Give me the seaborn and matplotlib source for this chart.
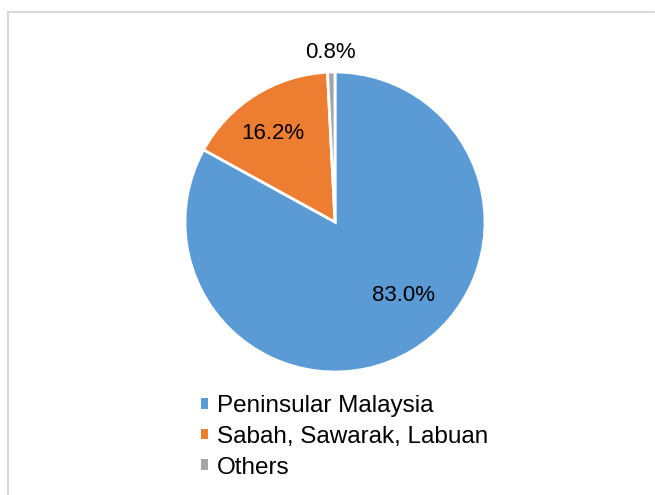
import numpy as np
import matplotlib
matplotlib.use("Agg")
import matplotlib.pyplot as plt
from matplotlib.patches import Patch
from matplotlib.lines import Line2D
import seaborn as sns

# data
regions = ['Peninsular Malaysia', 'Sabah, Sawarak, Labuan', 'Others']
shares = [83.0, 16.2, 0.8]
colors = ['#5B9BD5', '#ED7D31', '#A5A5A5']

# label placement (angle in degrees, radius as fraction of pie radius), like Excel best fit
label_angle = [-47, 125, 91.7]
label_radius = [0.667, 0.72, 1.13]

sns.set_theme(style='white')
plt.rcParams['font.family'] = ['Liberation Sans', 'DejaVu Sans']
plt.rcParams['text.color'] = 'black'

W, H = 655, 495
fig = plt.figure(figsize=(W / 100, H / 100), dpi=100)
fig.patch.set_facecolor('white')

# pie area: center (335, 222), radius 150 px
cx, cy, r = 335, 222, 150
ax = fig.add_axes([(cx - r) / W, (H - cy - r) / H, 2 * r / W, 2 * r / H])

wedges, texts, autotexts = ax.pie(
    shares, colors=colors, startangle=90, counterclock=False,
    autopct='%1.1f%%', pctdistance=0.6,
    wedgeprops=dict(edgecolor='white', linewidth=2.0),
    textprops=dict(fontsize=16, color='black'),
)
for t, a, rr in zip(autotexts, label_angle, label_radius):
    t.set_position((rr * np.cos(np.radians(a)), rr * np.sin(np.radians(a))))
    t.set_ha('center')
    t.set_va('center')
ax.set_xlim(-1, 1)
ax.set_ylim(-1, 1)
ax.set_aspect('equal')
ax.axis('off')

handles = [Patch(facecolor=c, edgecolor='none', label=l) for c, l in zip(colors, regions)]
leg = fig.legend(handles=handles, loc='upper left', bbox_to_anchor=(201 / W, 1 - 395 / H),
                 frameon=False, fontsize=17.5, handlelength=0.3, handleheight=0.3,
                 handletextpad=0.35, labelspacing=0.36, borderpad=0, borderaxespad=0)
for t in leg.get_texts():
    t.set_color('black')

# light border on top and left like the source frame
fig.add_artist(Line2D([8 / W, 8 / W], [0, 1 - 12 / H], transform=fig.transFigure,
                      color='#D9D9D9', linewidth=1.5))
fig.add_artist(Line2D([8 / W, 654 / W], [1 - 12 / H, 1 - 12 / H], transform=fig.transFigure,
                      color='#D9D9D9', linewidth=1.5))

fig.savefig('out.png', dpi=100)
